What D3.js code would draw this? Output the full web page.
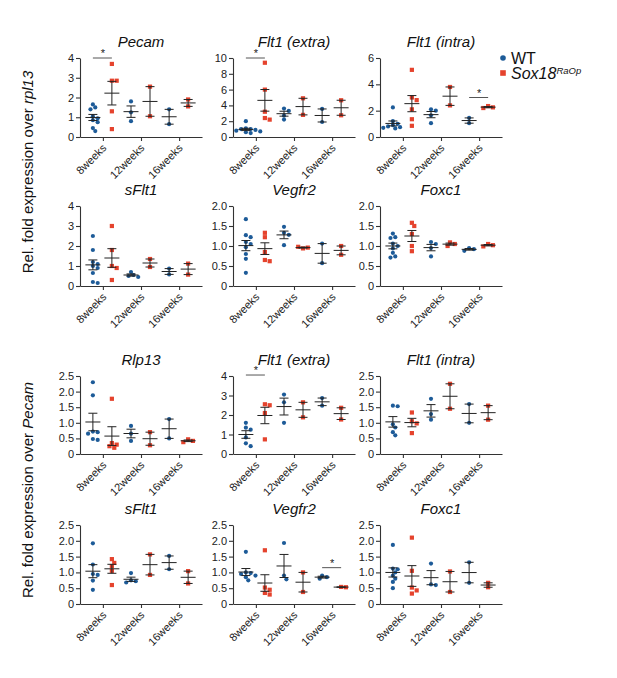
<!DOCTYPE html>
<html>
<head>
<meta charset="utf-8">
<script src="https://cdn.jsdelivr.net/npm/d3@7"></script>
<style>
  body { margin: 0; background: #fff; }
  svg { font-family: "Liberation Sans", Arial, Helvetica, sans-serif; }
</style>
</head>
<body>
<svg id="chart" width="617" height="678"></svg>
<script>
// panel titles, row by row
const genes = ['Pecam', 'Flt1 (extra)', 'Flt1 (intra)', 'sFlt1', 'Vegfr2', 'Foxc1',
  'Rlp13', 'Flt1 (extra)', 'Flt1 (intra)', 'sFlt1', 'Vegfr2', 'Foxc1'];
const ages = ['8weeks', '12weeks', '16weeks'];

// WT values per panel, one list per age
const wtValues = [
  [[1.65, 1.5, 1.4, 1.05, 0.95, 0.85, 0.75, 0.45, 0.3], [1.8, 1.25, 0.8], [1.4, 0.65]],
  [[2.0, 1.1, 1.0, 1.0, 0.9, 0.8, 0.7, 0.6, 0.5], [3.6, 3.3, 2.7, 2.2], [3.55, 1.9]],
  [[2.25, 1.2, 1.0, 0.9, 0.8, 0.75, 0.7, 0.65], [2.1, 2.0, 1.65, 1.05], [1.45, 1.05]],
  [[2.5, 1.8, 1.2, 1.1, 1.0, 0.9, 0.65, 0.2, 0.15], [0.7, 0.55, 0.5, 0.45], [0.87, 0.58]],
  [[1.67, 1.27, 1.22, 1.1, 1.05, 0.97, 0.8, 0.68, 0.33], [1.48, 1.33, 1.28, 1.02], [1.06, 0.57]],
  [[1.31, 1.22, 1.2, 1.06, 1.0, 0.94, 0.83, 0.74, 0.71], [1.1, 1.05, 0.95, 0.74], [0.95, 0.92, 0.88]],
  [[2.3, 1.88, 0.72, 0.7, 0.65, 0.48, 0.45], [0.9, 0.65, 0.42], [1.12, 0.5]],
  [[1.6, 1.35, 1.25, 0.85, 0.55, 0.4], [3.05, 2.65, 1.6], [2.87, 2.48]],
  [[1.55, 1.53, 0.95, 0.85, 0.7, 0.6], [1.77, 1.28, 1.1], [1.6, 1.0]],
  [[1.92, 1.25, 0.95, 0.92, 0.74, 0.45], [0.98, 0.75, 0.72, 0.68], [1.52, 1.1]],
  [[1.65, 1.0, 0.98, 0.95, 0.9, 0.85, 0.75], [1.93, 0.9, 0.78], [0.9, 0.85, 0.8]],
  [[1.87, 1.12, 1.1, 1.0, 0.9, 0.8, 0.7, 0.5], [1.28, 0.62, 0.6], [1.32, 0.67]]
];

// Sox18 RaOp values per panel, one list per age
const koValues = [
  [[3.7, 2.85, 2.85, 1.3, 0.4], [2.55, 1.05], [1.9, 1.55]],
  [[9.4, 6.0, 3.2, 2.4, 2.2], [4.9, 2.8], [4.65, 2.75]],
  [[5.1, 3.0, 2.8, 2.1, 1.35, 0.85], [3.8, 2.4], [2.35, 2.25, 2.2]],
  [[3.0, 1.8, 1.0, 0.9, 0.3], [1.35, 0.95], [1.12, 0.57]],
  [[1.33, 1.22, 0.85, 0.65, 0.62], [0.94, 0.96, 0.98], [1.0, 0.78]],
  [[1.58, 1.5, 1.3, 1.0, 0.87], [1.09, 1.05, 1.0], [1.05, 1.02, 0.99]],
  [[1.77, 0.35, 0.3, 0.25, 0.2], [0.7, 0.28], [0.47, 0.42, 0.38]],
  [[2.55, 2.5, 2.1, 0.75], [2.65, 1.88], [2.37, 1.77]],
  [[1.33, 1.05, 0.98, 0.67], [2.25, 1.45], [1.55, 1.1]],
  [[1.42, 1.3, 1.2, 1.05, 0.6], [1.57, 0.92], [1.04, 0.65]],
  [[1.7, 0.52, 0.45, 0.35, 0.3], [1.0, 0.38], [0.54, 0.53]],
  [[2.1, 1.05, 0.52, 0.43, 0.33], [1.03, 0.38], [0.67, 0.53]]
];

// y axis extent and tick step per panel
const yMax = [4, 10, 6, 4, 2, 2, 2.5, 4, 2.5, 2.5, 2.5, 2.5];
const yStep = [1, 2, 2, 1, 0.5, 0.5, 0.5, 1, 0.5, 0.5, 0.5, 0.5];

// significance marks: [panel, age index, bracket level]
const stars = [[0, 0, 4], [1, 0, 10], [2, 2, 3.0], [7, 0, 4.05], [10, 2, 1.15]];

const svg = d3.select('#chart');
const blue = '#1d5b98';
const red = '#e5432d';
const ink = '#333';

const colX = [80, 233, 380];
const panelW = 122;
const rowY = [[58, 137], [206, 286], [376, 454], [525, 604]];

// little beeswarm so dots at similar heights don't sit right on top of each other
const swarm = (values, cx, y, r) => {
  const placed = [];
  return values.map((v) => {
    const py = y(v);
    for (let k = 0; k < 20; k++) {
      const off = k === 0 ? 0 : (k % 2 ? 1 : -1) * Math.ceil(k / 2) * 2.4;
      const px = cx + off;
      if (placed.every((p) => Math.hypot(p[0] - px, p[1] - py) >= 2 * r - 0.4)) {
        placed.push([px, py]);
        return [px, py];
      }
    }
    placed.push([cx, py]);
    return [cx, py];
  });
};

const errorBar = (g, cx, y, vals) => {
  const m = d3.mean(vals);
  const sem = d3.deviation(vals) / Math.sqrt(vals.length);
  const eb = g.append('g').attr('stroke', '#222').attr('stroke-width', 1);
  eb.append('line').attr('x1', cx).attr('x2', cx).attr('y1', y(m - sem)).attr('y2', y(m + sem));
  eb.append('line').attr('x1', cx - 7.5).attr('x2', cx + 7.5).attr('y1', y(m)).attr('y2', y(m));
  [m - sem, m + sem].forEach((v) => {
    eb.append('line').attr('x1', cx - 4.5).attr('x2', cx + 4.5).attr('y1', y(v)).attr('y2', y(v));
  });
};

genes.forEach((gene, i) => {
  const col = i % 3;
  const row = Math.floor(i / 3);
  const x0 = colX[col];
  const [top, bottom] = rowY[row];
  const g = svg.append('g').attr('class', 'panel');

  const x = d3.scalePoint().domain(ages).range([x0, x0 + panelW]).padding(0.6);
  const y = d3.scaleLinear().domain([0, yMax[i]]).range([bottom, top]);
  const ticks = d3.range(0, yMax[i] + 1e-9, yStep[i]);
  const fmt = yStep[i] < 1 ? (d) => (d === 0 ? '0' : d3.format('.1f')(d)) : d3.format('d');

  const yAxis = g.append('g')
    .attr('transform', `translate(${x0},0)`)
    .call(d3.axisLeft(y).tickValues(ticks).tickFormat(fmt).tickSize(4).tickSizeOuter(0).tickPadding(2));
  yAxis.selectAll('text').attr('font-size', 11).attr('fill', '#222');

  const xAxis = g.append('g')
    .attr('transform', `translate(0,${bottom})`)
    .call(d3.axisBottom(x).tickSize(4).tickSizeOuter(0));
  xAxis.selectAll('text')
    .attr('font-size', 11)
    .attr('fill', '#222')
    .attr('text-anchor', 'end')
    .attr('x', 0)
    .attr('y', 0)
    .attr('dy', '0.35em')
    .attr('transform', 'translate(1,9) rotate(-45)');

  g.selectAll('.domain, .tick line').attr('stroke', ink).attr('stroke-width', 1.1);

  g.append('text')
    .attr('x', x0 + panelW / 2)
    .attr('y', top - 11)
    .attr('text-anchor', 'middle')
    .attr('font-size', 15)
    .attr('font-style', 'italic')
    .attr('fill', '#111')
    .text(gene);

  ages.forEach((age, a) => {
    const wx = x(age) - 10;
    const kx = x(age) + 9;

    swarm(wtValues[i][a], wx, y, 2.1).forEach(([px, py]) => {
      g.append('circle').attr('cx', px).attr('cy', py).attr('r', 2.1).attr('fill', blue);
    });
    swarm(koValues[i][a], kx, y, 2.1).forEach(([px, py]) => {
      g.append('rect').attr('x', px - 2.1).attr('y', py - 2.1)
        .attr('width', 4.2).attr('height', 4.2).attr('fill', red);
    });

    errorBar(g, wx, y, wtValues[i][a]);
    errorBar(g, kx, y, koValues[i][a]);
  });

  stars.filter((s) => s[0] === i).forEach(([, a, level]) => {
    const cx = x(ages[a]);
    const by = y(level);
    g.append('line')
      .attr('x1', cx - 10).attr('x2', cx + 9)
      .attr('y1', by).attr('y2', by)
      .attr('stroke', '#555').attr('stroke-width', 1);
    g.append('text')
      .attr('x', cx).attr('y', by - 1)
      .attr('text-anchor', 'middle')
      .attr('font-size', 11)
      .attr('fill', '#222')
      .text('*');
  });
});

// y axis titles
const yTitle = (cy, plain, italic) => {
  const t = svg.append('text')
    .attr('transform', `translate(33,${cy}) rotate(-90)`)
    .attr('text-anchor', 'middle')
    .attr('font-size', 15)
    .attr('fill', '#111');
  t.append('tspan').text(plain);
  t.append('tspan').attr('font-style', 'italic').text(italic);
};
yTitle(172, 'Rel. fold expression over ', 'rpl13');
yTitle(490, 'Rel. fold expression over ', 'Pecam');

// legend
const legend = svg.append('g').attr('transform', 'translate(503,58)');
legend.append('circle').attr('cx', 0).attr('cy', 0).attr('r', 2.8).attr('fill', blue);
legend.append('text').attr('x', 8).attr('y', 5.5).attr('font-size', 16).attr('fill', '#111').text('WT');
legend.append('rect').attr('x', -2.8).attr('y', 12.2).attr('width', 5.6).attr('height', 5.6).attr('fill', red);
const sox = legend.append('text').attr('x', 8).attr('y', 21).attr('font-size', 16)
  .attr('font-style', 'italic').attr('fill', '#111');
sox.append('tspan').text('Sox18');
sox.append('tspan').attr('font-size', 9.5).attr('dy', -5).text('RaOp');
</script>
</body>
</html>
